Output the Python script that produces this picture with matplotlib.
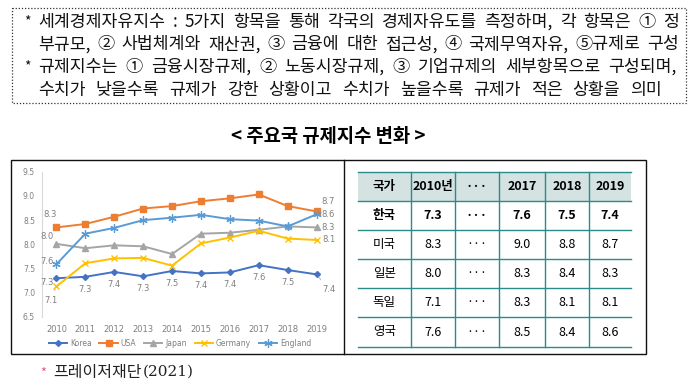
import matplotlib
matplotlib.use("Agg")
import matplotlib.pyplot as plt
from matplotlib.lines import Line2D
from matplotlib.patches import Rectangle

plt.rcParams['font.family'] = ['Noto Sans CJK KR', 'DejaVu Sans']

# ---------------- data ----------------
years = [2010, 2011, 2012, 2013, 2014, 2015, 2016, 2017, 2018, 2019]
korea   = [7.30, 7.33, 7.43, 7.34, 7.45, 7.40, 7.42, 7.57, 7.47, 7.38]
usa     = [8.35, 8.42, 8.57, 8.74, 8.79, 8.89, 8.95, 9.03, 8.79, 8.68]
japan   = [8.01, 7.92, 7.98, 7.96, 7.80, 8.22, 8.24, 8.30, 8.37, 8.35]
germany = [7.13, 7.61, 7.71, 7.72, 7.56, 8.02, 8.14, 8.28, 8.12, 8.09]
england = [7.59, 8.22, 8.34, 8.50, 8.55, 8.61, 8.52, 8.49, 8.37, 8.62]
series_names = ['Korea', 'USA', 'Japan', 'Germany', 'England']
korea_labels = ['7.3', '7.3', '7.4', '7.3', '7.5', '7.4', '7.4', '7.6', '7.5', '7.4']
end_labels = {  # series: (2010 label, 2019 label)
    'USA': ('8.3', '8.7'), 'Japan': ('8.0', '8.3'),
    'Germany': ('7.1', '8.1'), 'England': ('7.6', '8.6'),
}
yticks = [6.5, 7.0, 7.5, 8.0, 8.5, 9.0, 9.5]

table_header = ['국가', '2010년', '···', '2017', '2018', '2019']
table_countries = ['한국', '미국', '일본', '독일', '영국']
table_2010 = ['7.3', '8.3', '8.0', '7.1', '7.6']
table_2017 = ['7.6', '9.0', '8.3', '8.3', '8.5']
table_2018 = ['7.5', '8.8', '8.4', '8.1', '8.4']
table_2019 = ['7.4', '8.7', '8.3', '8.1', '8.6']

note_lines = [
    ('*', '세계경제자유지수 : 5가지 항목을 통해 각국의 경제자유도를 측정하며, 각 항목은 ① 정'),
    ('', '부규모, ② 사법체계와 재산권, ③ 금융에 대한 접근성, ④ 국제무역자유, ⑤규제로 구성'),
    ('*', '규제지수는 ① 금융시장규제, ② 노동시장규제, ③ 기업규제의 세부항목으로 구성되며,'),
    ('', '수치가 낮을수록 규제가 강한 상황이고 수치가 높을수록 규제가 적은 상황을 의미'),
]
title = '< 주요국 규제지수 변화 >'
source_name = '프레이저재단'
source_year = '(2021)'

# ---------------- figure ----------------
W, H = 694, 388
fig = plt.figure(figsize=(W / 100, H / 100), dpi=100)
bg = fig.add_axes([0, 0, 1, 1])
bg.set_xlim(0, W)
bg.set_ylim(H, 0)
bg.axis('off')
renderer = fig.canvas.get_renderer()

# dotted note box
bg.add_patch(Rectangle((12, 8), 674, 95, fill=False, ec='#333333', lw=0.9,
                       ls=(0, (1, 1.5))))
line_y = [20, 42.5, 65, 87.5]
line_right = [679, 679, 677, 662]
x_left = 38
for (star, txt), y, xr in zip(note_lines, line_y, line_right):
    if star:
        bg.text(24, y, star, fontsize=10, ha='left', va='center_baseline', color='#111111')
    words = txt.split(' ')
    objs = [bg.text(0, y, w, fontsize=12.4, ha='left', va='center_baseline',
                    color='#111111') for w in words]
    widths = [o.get_window_extent(renderer).width for o in objs]
    gap = (xr - x_left - sum(widths)) / (len(words) - 1)
    x = x_left
    for o, wd in zip(objs, widths):
        o.set_x(x)
        x += wd + gap

# title
bg.text(328, 137, title, fontsize=13.5, fontweight='bold', ha='center',
        va='center', color='#000000')

# outer box
bg.add_patch(Rectangle((11, 160), 635, 194, fill=False, ec='#111111', lw=1.0))
bg.plot([344, 344], [160, 354], color='#111111', lw=1.0)

# source
bg.text(40, 373, '*', fontsize=9, color='#e05a78', ha='left', va='center')
sn = bg.text(53, 372, source_name, fontsize=11.5, color='#222222', ha='left', va='center')
sw = sn.get_window_extent(renderer).width
bg.text(53 + sw + 1, 372, source_year, fontsize=11, family='DejaVu Serif', color='#222222',
        ha='left', va='center')

# ---------------- table ----------------
col_x = [358, 410.7, 454.7, 499.3, 544.7, 589.3, 630.7]
row_y = [172.3, 201, 230.3, 259.3, 288.3, 317.3, 346.7]
teal = '#2b8a8a'
bg.add_patch(Rectangle((col_x[0], row_y[0]), col_x[-1] - col_x[0], row_y[1] - row_y[0],
                       fc='#d5e2e2', ec='none'))
for yy in row_y:
    bg.plot([col_x[0], col_x[-1]], [yy, yy], color=teal, lw=1.0)
for xx in col_x[1:-1]:
    bg.plot([xx, xx], [row_y[0], row_y[-1]], color=teal, lw=1.0)

rows = [table_header] + [[c, a, '···', b, d, e] for c, a, b, d, e in
                         zip(table_countries, table_2010, table_2017, table_2018, table_2019)]
for r, row in enumerate(rows):
    yc = (row_y[r] + row_y[r + 1]) / 2
    for c, val in enumerate(row):
        xc = (col_x[c] + col_x[c + 1]) / 2
        bold = r <= 1
        bg.text(xc, yc, val, fontsize=9, fontweight='bold' if bold else 'normal',
                ha='center', va='center', color='#000000')

# ---------------- chart ----------------
ax = fig.add_axes([42 / W, 1 - 317 / H, 289 / W, (317 - 171.7) / H])
ax.set_xlim(2009.5, 2019.5)
ax.set_ylim(6.5, 9.5)
ax.patch.set_alpha(0)
for s in ['top', 'right', 'bottom']:
    ax.spines[s].set_visible(False)
ax.spines['left'].set_color('#d9d9d9')
ax.spines['left'].set_linewidth(0.8)
ax.set_yticks(yticks)
ax.set_yticklabels([f'{v:.1f}' for v in yticks])
ax.set_xticks(years)
ax.set_xticklabels([str(y) for y in years])
ax.tick_params(axis='both', length=0, labelsize=5.5, labelcolor='#7f7f7f')
ax.tick_params(axis='x', labelsize=6, pad=6)
ax.tick_params(axis='y', pad=5)
for lab in ax.get_xticklabels() + ax.get_yticklabels():
    lab.set_family('DejaVu Sans')

styles = {
    'Korea':   dict(color='#4472c4', marker='D', ms=3),
    'USA':     dict(color='#ed7d31', marker='s', ms=4),
    'Japan':   dict(color='#a5a5a5', marker='^', ms=4),
    'Germany': dict(color='#ffc000', marker='x', ms=5, mew=1.0),
    'England': dict(color='#5b9bd5', marker=(6, 2, 0), ms=6, mew=0.9),
}
data = {'Korea': korea, 'USA': usa, 'Japan': japan, 'Germany': germany, 'England': england}
for name in series_names:
    ax.plot(years, data[name], lw=1.4, label=name, **styles[name])

lab_kw = dict(fontsize=6, color='#7f7f7f', ha='center', va='center',
              textcoords='offset points', family='DejaVu Sans')
leader = dict(arrowstyle='-', color='#a6a6a6', lw=0.5, shrinkA=2, shrinkB=2)
px = 0.72
# Korea labels
for i, (yr, v, t) in enumerate(zip(years, korea, korea_labels)):
    if i == 0:
        ax.annotate(t, (yr, v), xytext=(-9 * px, -4 * px), **lab_kw)
    elif i == len(years) - 1:
        ax.annotate(t, (yr, v), xytext=(12 * px, -15 * px), arrowprops=leader, **lab_kw)
    else:
        ax.annotate(t, (yr, v), xytext=(0, -12.5 * px), **lab_kw)
# end labels
offs_2010 = {'USA': (-6, 12.5, True), 'Japan': (-9, 7, False),
             'Germany': (-6, -14, True), 'England': (-9, 2.5, False)}
offs_2019 = {'USA': (12, 9.5, True), 'Japan': (12, 0, False),
             'Germany': (12, 0, False), 'England': (12, 0, False)}
for name, (l0, l1) in end_labels.items():
    dx, dy, ld = offs_2010[name]
    ax.annotate(l0, (years[0], data[name][0]), xytext=(dx * px, dy * px),
                arrowprops=leader if ld else None, **lab_kw)
    dx, dy, ld = offs_2019[name]
    ax.annotate(l1, (years[-1], data[name][-1]), xytext=(dx * px, dy * px),
                arrowprops=leader if ld else None, **lab_kw)

handles = [Line2D([], [], lw=1.4, **styles[n]) for n in series_names]
leg = fig.legend(handles, series_names, loc='center', ncol=5,
                 bbox_to_anchor=(180 / W, 1 - 343 / H), frameon=False,
                 prop={'family': 'DejaVu Sans', 'size': 5.5}, handlelength=2.4,
                 columnspacing=1.0, handletextpad=0.4)
for t in leg.get_texts():
    t.set_color('#7f7f7f')

fig.savefig('out.png', dpi=100)
